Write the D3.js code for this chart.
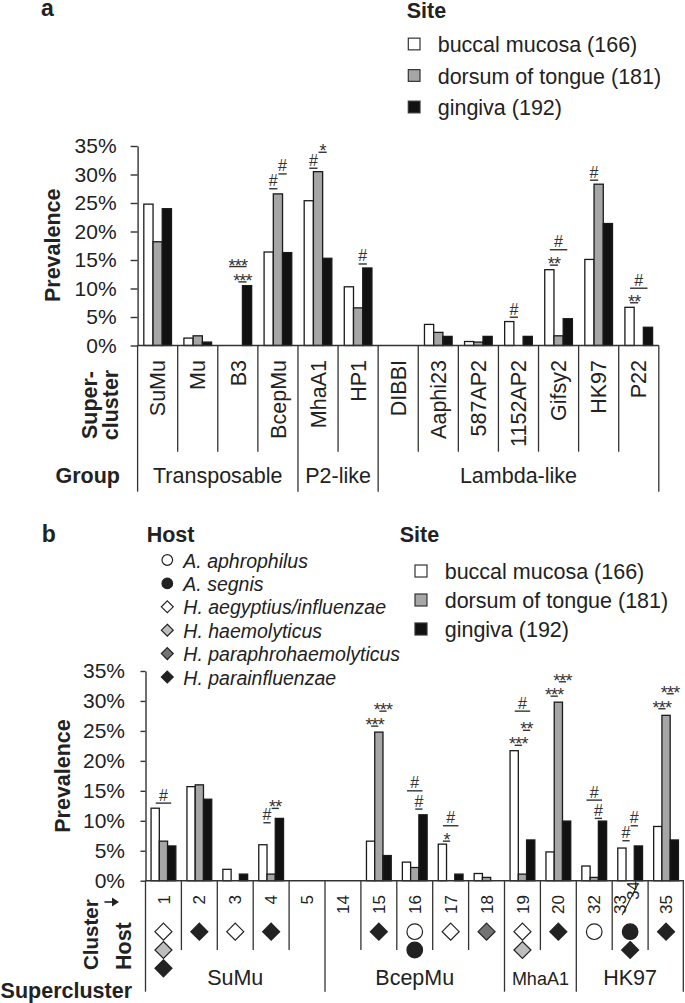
<!DOCTYPE html>
<html><head><meta charset="utf-8">
<script src="https://cdn.jsdelivr.net/npm/d3@7"></script>
<style>body{margin:0;background:#fff}svg{display:block}</style>
</head><body>
<svg id="chart" width="685" height="1003"></svg>
<script>
// ---------- data ----------
const siteLabels = ["buccal mucosa (166)", "dorsum of tongue (181)", "gingiva (192)"];
const siteFills = ["#ffffff", "#a6a6a6", "#111111"];
const yTicks = [0, 5, 10, 15, 20, 25, 30, 35];

// panel a
const superclustersA = ["SuMu","Mu","B3","BcepMu","MhaA1","HP1","DIBBI","Aaphi23","587AP2","1152AP2","Gifsy2","HK97","P22"];
const buccalA  = [24.8, 1.3, 0,    16.4, 25.4, 10.3, 0, 3.7, 0.7, 4.2, 13.3, 15.1, 6.7];
const dorsumA  = [18.2, 1.7, 0,    26.6, 30.5,  6.6, 0, 2.3, 0.6, 0,    1.7, 28.3, 0];
const gingivaA = [24.0, 0.6, 10.5, 16.3, 15.3, 13.6, 0, 1.6, 1.6, 1.6,  4.7, 21.4, 3.2];
const groupNamesA = ["Transposable", "P2-like", "Lambda-like"];
const groupSizesA = [4, 2, 7];
// [category, site from, site to, label, level %]
const sigA = [
  ["B3",0,2,"***",13.85], ["B3",1,2,"***",11.16],
  ["BcepMu",0,1,"#",27.5], ["BcepMu",1,2,"#",30.1],
  ["MhaA1",0,1,"#",31.1], ["MhaA1",1,2,"*",33.9],
  ["HP1",1,2,"#",14.3],
  ["1152AP2",0,1,"#",4.96],
  ["Gifsy2",0,1,"**",14.1], ["Gifsy2",0,2,"#",16.8],
  ["HK97",0,1,"#",29.0],
  ["P22",0,1,"**",7.5], ["P22",0,2,"#",10.05]
];

// panel b
const clustersB = ["1","2","3","4","5","14","15","16","17","18","19","20","32","33/34","35"];
const buccalB  = [12.1, 15.7, 1.9, 6.0,  0, 0,  6.6, 3.1,  6.1, 1.2,  21.7,  4.8, 2.45, 5.45, 9.05];
const dorsumB  = [ 6.6, 16.0, 0,   1.1,  0, 0, 24.8, 2.2,  0,   0.55,  1.1, 29.8, 0.55, 0,   27.6];
const gingivaB = [ 5.8, 13.6, 1.1, 10.4, 0, 0,  4.2, 11.0, 1.1, 0,     6.8,  9.95, 9.95, 5.8, 6.8];
const superNamesB = ["SuMu", "BcepMu", "MhaA1", "HK97"];
const superSizesB = [5, 5, 2, 3];
const hostNames = ["A. aphrophilus", "A. segnis", "H. aegyptius/influenzae", "H. haemolyticus", "H. paraphrohaemolyticus", "H. parainfluenzae"];
const hostShapes = ["circle", "circle", "diamond", "diamond", "diamond", "diamond"];
const hostFills = ["#ffffff", "#222222", "#ffffff", "#bdbdbd", "#737373", "#222222"];
// host index list per cluster
const hostsB = [[2,3,5],[5],[2],[5],[],[],[5],[0,1],[2],[4],[2,3],[5],[0],[1,5],[5]];
const sigB = [
  ["1",0,2,"#",12.95],
  ["4",0,1,"#",9.67], ["4",1,2,"**",12.07],
  ["15",0,1,"***",25.8], ["15",1,2,"***",28.3],
  ["16",0,2,"#",15.0], ["16",1,2,"#",11.95],
  ["17",0,2,"#",9.17], ["17",0,1,"*",6.6],
  ["19",0,1,"***",22.6], ["19",1,2,"**",25.1], ["19",0,2,"#",28.3],
  ["20",0,1,"***",30.8], ["20",1,2,"***",33.2],
  ["32",0,2,"#",13.45], ["32",1,2,"#",10.4],
  ["33/34",0,1,"#",6.67], ["33/34",1,2,"#",9.17],
  ["35",0,1,"***",28.7], ["35",1,2,"***",31.2]
];

// ---------- drawing ----------
const FONT = "'Liberation Sans', Arial, Helvetica, sans-serif";
const INK = "#222";
const svg = d3.select("#chart").style("font-family", FONT);
svg.append("rect").attr("width", 685).attr("height", 1003).attr("fill", "#fff");

function txt(g, x, y, s, size, opts = {}) {
  const t = g.append("text").attr("x", x).attr("y", y).text(s)
    .attr("font-size", size).attr("fill", INK)
    .attr("font-weight", opts.bold ? "bold" : null)
    .attr("font-style", opts.italic ? "italic" : null)
    .attr("text-anchor", opts.anchor || "start");
  if (opts.rotate) t.attr("transform", `rotate(-90,${x},${y})`);
  if (opts.dy) t.attr("dy", opts.dy);
  return t;
}

function siteLegend(g, titleX, titleY, boxX, centers, textX, box) {
  txt(g, titleX, titleY, "Site", 21.5, {bold: true});
  siteLabels.forEach((lab, i) => {
    g.append("rect").attr("x", boxX).attr("y", centers[i] - box / 2)
      .attr("width", box).attr("height", box)
      .attr("fill", siteFills[i]).attr("stroke", "#333").attr("stroke-width", 1.2);
    txt(g, textX, centers[i] + 8, lab, 21.5);
  });
}

function hostSymbol(g, cx, cy, h, r) {
  if (hostShapes[h] === "circle") {
    g.append("circle").attr("cx", cx).attr("cy", cy).attr("r", r)
      .attr("fill", hostFills[h]).attr("stroke", "#222").attr("stroke-width", 1.2);
  } else {
    const d = r * 1.12;
    g.append("path").attr("d", `M${cx},${cy - d}L${cx + d},${cy}L${cx},${cy + d}L${cx - d},${cy}Z`)
      .attr("fill", hostFills[h]).attr("stroke", "#222").attr("stroke-width", 1.2);
  }
}

function barPanel(g, cats, series, x, y, tickSize, tickPad, sig) {
  const inner = d3.scaleBand().domain([0, 1, 2])
    .range([x.bandwidth() * 0.155, x.bandwidth() * 0.845]);
  const rows = [];
  cats.forEach((c, i) => series.forEach((vals, s) => { if (vals[i] > 0) rows.push({c, s, v: vals[i]}); }));
  g.selectAll(null).data(rows).join("rect")
    .attr("x", d => x(d.c) + inner(d.s))
    .attr("y", d => y(d.v))
    .attr("width", inner.bandwidth())
    .attr("height", d => y(0) - y(d.v))
    .attr("fill", d => siteFills[d.s])
    .attr("stroke", "#1a1a1a").attr("stroke-width", 1.3);

  const ax = g.append("g").attr("transform", `translate(${x.range()[0]},0)`)
    .call(d3.axisLeft(y).tickValues(yTicks).tickFormat(d => d + "%")
      .tickSize(tickSize).tickSizeOuter(0).tickPadding(tickPad));
  ax.select(".domain").attr("stroke", "#333").attr("stroke-width", 1.4);
  ax.selectAll(".tick line").attr("stroke", "#333").attr("stroke-width", 1.4);
  ax.selectAll(".tick text").attr("font-size", 21).attr("fill", INK).attr("font-family", FONT);

  g.append("line").attr("x1", x.range()[0]).attr("x2", x.range()[1])
    .attr("y1", y(0)).attr("y2", y(0)).attr("stroke", "#333").attr("stroke-width", 1.4);

  const cx = (c, s) => x(c) + inner(s) + inner.bandwidth() / 2;
  sig.forEach(([c, a, b, lab, lvl]) => {
    const x1 = cx(c, a), x2 = cx(c, b), yy = y(lvl);
    g.append("line").attr("x1", x1 + 0.5).attr("x2", x2 - 0.5).attr("y1", yy).attr("y2", yy)
      .attr("stroke", "#333").attr("stroke-width", 1.4);
    const star = lab.includes("*");
    g.append("text").attr("x", (x1 + x2) / 2).attr("y", star ? yy + 5 : yy - 2.5)
      .attr("text-anchor", "middle").attr("font-size", star ? 18 : 16)
      .attr("letter-spacing", star ? -0.8 : 0)
      .attr("fill", "#333").text(lab);
  });
}

// ===== panel a =====
const gA = svg.append("g");
txt(gA, 41, 16, "a", 23, {bold: true});
siteLegend(gA, 406.7, 18, 408.3, [44, 75.5, 107], 437.7, 11.7);

const xA = d3.scaleBand().domain(superclustersA).range([137.6, 658.8]).padding(0);
const yA = d3.scaleLinear().domain([0, 35]).range([345.5, 146]);
barPanel(gA, superclustersA, [buccalA, dorsumA, gingivaA], xA, yA, 7, 14, sigA);

txt(gA, 60, 245.3, "Prevalence", 21.5, {bold: true, rotate: true, anchor: "middle"});
txt(gA, 96.7, 405, "Super-", 21.5, {bold: true, rotate: true, anchor: "middle"});
txt(gA, 118.3, 405, "cluster", 21.5, {bold: true, rotate: true, anchor: "middle"});
txt(gA, 120, 483.3, "Group", 21.5, {bold: true, anchor: "end"});

superclustersA.forEach(c => {
  txt(gA, xA(c) + xA.bandwidth() / 2, 360, c, 21.5, {rotate: true, anchor: "end", dy: "0.36em"});
});
// dividers
const groupStartsA = d3.cumsum([0, ...groupSizesA]);
superclustersA.concat([null]).forEach((c, i) => {
  const xx = c ? xA(c) : xA.range()[1];
  const isGroup = groupStartsA.includes(i);
  gA.append("line").attr("x1", xx).attr("x2", xx).attr("y1", yA(0)).attr("y2", isGroup ? 491.7 : 451.7)
    .attr("stroke", "#333").attr("stroke-width", 1.3);
});
groupNamesA.forEach((n, i) => {
  const x0 = xA(superclustersA[groupStartsA[i]]);
  const x1 = groupStartsA[i + 1] < superclustersA.length ? xA(superclustersA[groupStartsA[i + 1]]) : xA.range()[1];
  txt(gA, (x0 + x1) / 2, 483.3, n, 21.5, {anchor: "middle"});
});

// ===== panel b =====
const gB = svg.append("g");
txt(gB, 41.7, 541.7, "b", 23, {bold: true});
txt(gB, 146.7, 542.3, "Host", 21.5, {bold: true});
hostNames.forEach((n, i) => {
  const cy = 560 + 23.4 * i;
  hostSymbol(gB, 167.3, cy, i, 5.3);
  txt(gB, 183.3, cy + 7.5, n, 19.5, {italic: true});
});
siteLegend(gB, 399.7, 541.7, 415, [571, 600, 629], 444.7, 12);

const xB = d3.scaleBand().domain(clustersB).range([145.5, 684]).padding(0);
const yB = d3.scaleLinear().domain([0, 35]).range([880.7, 671]);
barPanel(gB, clustersB, [buccalB, dorsumB, gingivaB], xB, yB, 5, 15.5, sigB);

txt(gB, 70, 776, "Prevalence", 21.5, {bold: true, rotate: true, anchor: "middle"});
txt(gB, 98, 970, "Cluster", 20.5, {bold: true, rotate: true});
gB.append("line").attr("x1", 104.5).attr("x2", 113).attr("y1", 902).attr("y2", 902)
  .attr("stroke", INK).attr("stroke-width", 1.6);
gB.append("path").attr("d", "M112,897.5L119,902L112,906.5Z").attr("fill", INK);
txt(gB, 131, 970, "Host", 21.5, {bold: true, rotate: true});
txt(gB, 132, 997.5, "Supercluster", 21.5, {bold: true, anchor: "end"});

clustersB.forEach((c, i) => {
  const cx = xB(c) + xB.bandwidth() / 2;
  if (c === "33/34") {
    const [p1, p2] = c.split("/");
    txt(gB, cx - 10, 895, p1, 17, {rotate: true, anchor: "end", dy: "0.36em"});
    txt(gB, cx + 3, 881, p2, 17, {rotate: true, anchor: "end", dy: "0.36em"});
    gB.append("line").attr("x1", cx - 8).attr("y1", 915).attr("x2", cx + 8).attr("y2", 883.5)
      .attr("stroke", INK).attr("stroke-width", 1.1);
  } else {
    txt(gB, cx, 895, c, 17, {rotate: true, anchor: "end", dy: "0.36em"});
  }
  hostsB[i].forEach((h, k) => hostSymbol(gB, cx, 931.7 + 18.3 * k, h, h < 2 ? 7.8 : 7.6));
});
const superStartsB = d3.cumsum([0, ...superSizesB]);
clustersB.concat([null]).forEach((c, i) => {
  const xx = c ? xB(c) : xB.range()[1] - 0.7;
  const isSuper = superStartsB.includes(i);
  gB.append("line").attr("x1", xx).attr("x2", xx).attr("y1", yB(0)).attr("y2", isSuper ? 991.7 : 950)
    .attr("stroke", "#333").attr("stroke-width", 1.3);
});
superNamesB.forEach((n, i) => {
  const x0 = xB(clustersB[superStartsB[i]]);
  const x1 = superStartsB[i + 1] < clustersB.length ? xB(clustersB[superStartsB[i + 1]]) : xB.range()[1];
  txt(gB, (x0 + x1) / 2, 985, n, n === "MhaA1" ? 18 : 21.5, {anchor: "middle"});
});
</script>
</body></html>
